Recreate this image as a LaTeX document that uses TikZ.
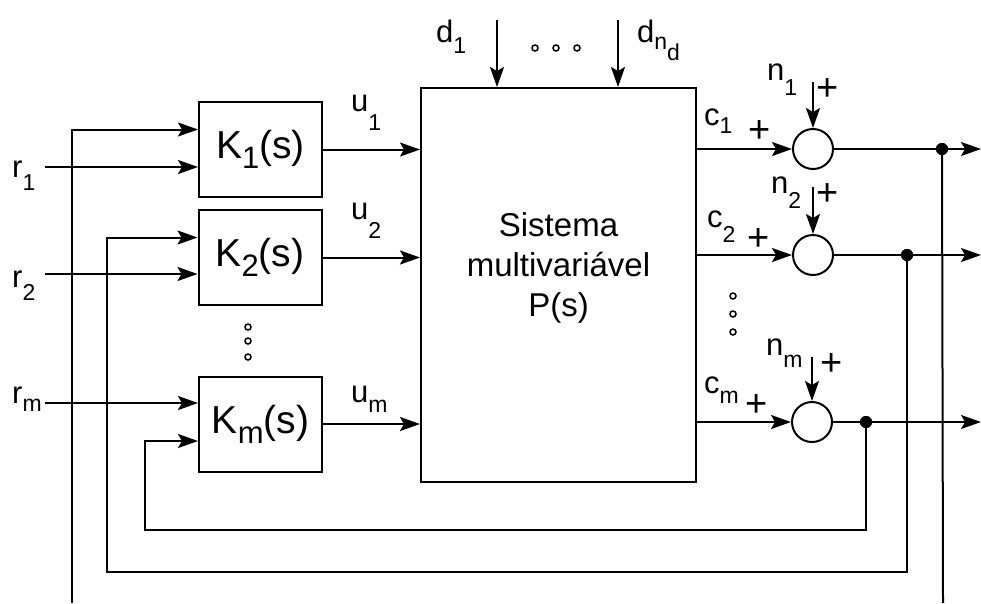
\documentclass[tikz,border=0pt]{standalone}
\usepackage{fontspec}
\setmainfont{Liberation Sans}
\usetikzlibrary{arrows.meta,positioning,calc}
\newcommand{\dn}[2][9pt]{\raisebox{-#1}{\fontsize{23}{23}\selectfont #2}}
\newcommand{\kdn}[1]{\raisebox{-10pt}{\fontsize{31}{31}\selectfont #1}}
\tikzset{
  blk/.style={draw, line width=2pt, minimum width=123pt, minimum height=95pt, inner sep=0pt, font=\fontsize{39}{39}\selectfont},
  plant/.style={draw, line width=2pt, minimum width=275pt, minimum height=394pt},
  sumnode/.style={draw, circle, line width=2pt, minimum size=40pt, inner sep=0pt},
  lbl/.style={font=\fontsize{31}{31}\selectfont, inner sep=0pt, anchor=base west},
  sgn/.style={font=\fontsize{38}{38}\selectfont, inner sep=0pt},
  sig/.style={line width=2pt, -{Stealth[length=20pt,width=14pt,inset=4pt]}},
  wire/.style={line width=2pt},
  jn/.style={circle, fill, inner sep=0pt, minimum size=12pt},
  ddot/.style={circle, draw, line width=1.5pt, inner sep=0pt, minimum size=6pt},
}
\begin{document}
\begin{tikzpicture}[x=1pt,y=-1pt]
\useasboundingbox (0,0) rectangle (981,603);
% controllers and plant
\node[blk] (K1) at (260.5,149.5) {K\kdn{1}(s)};
\node[blk] (K2) at (260,257.5) {K\kdn{2}(s)};
\node[blk] (Km) at (260.5,424) {K\kdn{m}(s)};
\node[plant] (P) at (558.5,285) {};
\node[font=\fontsize{33}{40}\selectfont, align=center] (Ptxt) at ([yshift=17pt]P.center) {Sistema\\multivariável\\P(s)};
% summing junctions
\node[sumnode] (S1) at (813,149) {};
\node[sumnode] (S2) at (813,255) {};
\node[sumnode] (Sm) at (812,422) {};
\node[jn] (j1) at (942,149) {};
\node[jn] (j2) at (907,255) {};
\node[jn] (jm) at (866,422) {};
% free ends
\coordinate (r1s) at (45,167);
\coordinate (r2s) at (45,274);
\coordinate (rms) at (45,403);
\coordinate (d1s) at (497,20);
\coordinate (dns) at (618,20);
\coordinate (n1s) at (813,82);
\coordinate (n2s) at (813,187);
\coordinate (nms) at (812,357);
\coordinate (y1) at (981,149);
\coordinate (y2) at (981,255);
\coordinate (ym) at (981,422);
\coordinate (a1) at (72,603);
\coordinate (b1) at (943,603);
\coordinate (b2) at (107,572);
\coordinate (bm) at (145,530);
% references
\draw[sig] (r1s) -- (r1s -| K1.west);
\draw[sig] (r2s) -- (r2s -| K2.west);
\draw[sig] (rms) -- (rms -| Km.west);
\node[lbl] (r1) at (12,177) {r\dn[13pt]{1}};
\node[lbl] (r2) at (12,287) {r\dn[13pt]{2}};
\node[lbl] (rm) at (12,403) {r\dn[8pt]{m}};
% controls
\draw[sig] (K1.east) -- (K1.east -| P.west);
\draw[sig] (K2.east) -- (K2.east -| P.west);
\draw[sig] (Km.east) -- (Km.east -| P.west);
\node[lbl] (u1) at (351,111) {u\dn[19pt]{1}};
\node[lbl] (u2) at (351,219) {u\dn[19pt]{2}};
\node[lbl] (um) at (351,402) {u\dn[10pt]{m}};
% disturbances
\draw[sig] (d1s) -- (d1s |- P.north);
\draw[sig] (dns) -- (dns |- P.north);
\node[lbl] (d1) at (436,42) {d\dn[11pt]{1}};
\node[lbl] (dn) at (637,42) {d\dn[7pt]{n\dn[11pt]{d}}};
\foreach \x [count=\i] in {535,556,577}
  \node[ddot] (hd\i) at (\x,48) {};
% outputs and noise
\draw[sig] (S1.west -| P.east) -- (S1.west);
\draw[sig] (S2.west -| P.east) -- (S2.west);
\draw[sig] (Sm.west -| P.east) -- (Sm.west);
\node[lbl] (c1) at (704,125) {c\dn[8pt]{1}};
\node[lbl] (c2) at (707,227) {c\dn[15pt]{2}};
\node[lbl] (cm) at (704,393) {c\dn[10pt]{m}};
\node[sgn] (pc1) at (760,132) {+};
\node[sgn] (pc2) at (759,240) {+};
\node[sgn] (pcm) at (757,406) {+};
\draw[sig] (n1s) -- (S1.north);
\draw[sig] (n2s) -- (S2.north);
\draw[sig] (nms) -- (Sm.north);
\node[lbl] (n1) at (767,80) {n\dn[15pt]{1}};
\node[lbl] (n2) at (771,193) {n\dn[15pt]{2}};
\node[lbl] (nm) at (766,355) {n\dn[12pt]{m}};
\node[sgn] (pn1) at (828,90) {+};
\node[sgn] (pn2) at (828,195) {+};
\node[sgn] (pnm) at (832,365) {+};
\draw[sig] (S1.east) -- (y1);
\draw[sig] (S2.east) -- (y2);
\draw[sig] (Sm.east) -- (ym);
% feedback loops
\draw[wire] (j1.center) -- (b1);
\draw[sig] (a1) |- ([yshift=20pt]K1.west);
\draw[sig] (j2.center) |- (b2) |- ([yshift=20pt]K2.west);
\draw[sig] (jm.center) |- (bm) |- ([yshift=-17pt]Km.west);
\node[jn] at (j1) {};
\node[jn] at (j2) {};
\node[jn] at (jm) {};
% vertical dots
\foreach \y [count=\i] in {327,341,357}
  \node[ddot] (vl\i) at (248,\y) {};
\foreach \y [count=\i] in {296,314,332}
  \node[ddot] (vr\i) at (733,\y) {};
\end{tikzpicture}
\end{document}
